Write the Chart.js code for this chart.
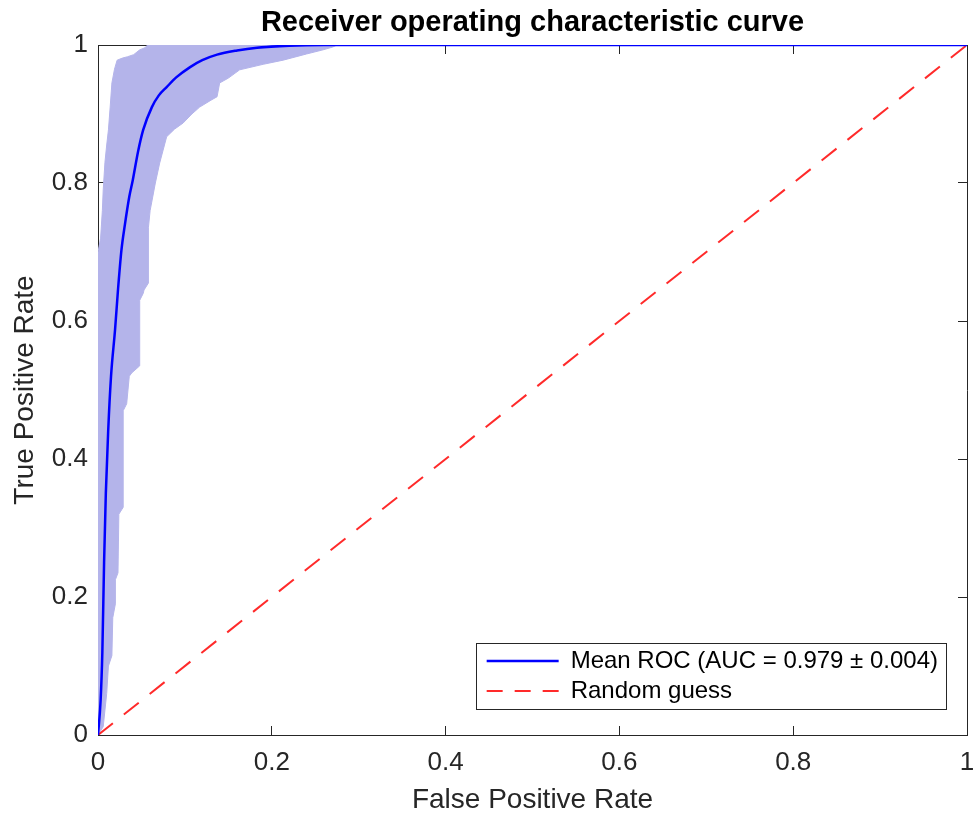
<!DOCTYPE html>
<html>
<head>
<meta charset="utf-8">
<title>ROC curve</title>
<script src="https://cdn.jsdelivr.net/npm/chart.js@4.4.1/dist/chart.umd.min.js"></script>
<style>
  html, body { margin: 0; padding: 0; background: #fff; }
  canvas { display: block; }
</style>
</head>
<body>
<canvas id="rocChart" width="974" height="818"></canvas>
<script>
// =======================
// data
// =======================

const tickValues = [0, 0.2, 0.4, 0.6, 0.8, 1];

// mean ROC over the folds
const meanFpr = [0, 0.003, 0.005, 0.007, 0.009, 0.0117, 0.015, 0.0196, 0.023, 0.027, 0.031, 0.036, 0.040, 0.046, 0.052, 0.062, 0.070, 0.079, 0.090, 0.106, 0.120, 0.137, 0.160, 0.183, 0.220, 0.260, 1];
const meanTpr = [0, 0.05, 0.12, 0.25, 0.35, 0.44, 0.52, 0.587, 0.645, 0.703, 0.74, 0.78, 0.804, 0.845, 0.877, 0.910, 0.927, 0.939, 0.953, 0.968, 0.978, 0.986, 0.992, 0.996, 0.999, 1, 1];

// chance line
const guessFpr = [0, 1];
const guessTpr = [0, 1];

// spread of the single fold curves (upper-left and lower-right edge)
const bandTopFpr = [0, 0, 0.003, 0.005, 0.006, 0.008, 0.010, 0.012, 0.014, 0.016, 0.019, 0.022, 0.028, 0.034, 0.041, 0.048, 0.054, 0.057, 0.275];
const bandTopTpr = [0, 0.70, 0.72, 0.76, 0.79, 0.83, 0.855, 0.877, 0.91, 0.945, 0.965, 0.978, 0.981, 0.983, 0.986, 0.993, 0.996, 1, 1];

const bandLowFpr = [0, 0.006, 0.010, 0.012, 0.016, 0.017, 0.020, 0.020, 0.023, 0.024, 0.029, 0.029, 0.033, 0.036, 0.039, 0.048, 0.048, 0.052, 0.053, 0.058, 0.058, 0.060, 0.066, 0.071, 0.079, 0.088, 0.098, 0.108, 0.117, 0.130, 0.137, 0.140, 0.150, 0.163, 0.190, 0.213, 0.240, 0.259, 0.270, 0.275];
const bandLowTpr = [0, 0.012, 0.06, 0.10, 0.115, 0.17, 0.19, 0.225, 0.235, 0.32, 0.33, 0.47, 0.48, 0.52, 0.525, 0.535, 0.63, 0.64, 0.645, 0.655, 0.735, 0.76, 0.80, 0.829, 0.867, 0.878, 0.887, 0.90, 0.910, 0.92, 0.925, 0.945, 0.952, 0.964, 0.972, 0.978, 0.987, 0.993, 0.997, 1];

const legendLabels = ['Mean ROC (AUC = 0.979 \u00b1 0.004)', 'Random guess'];

const toPoints = (xs, ys) => xs.map((x, i) => ({ x: x, y: ys[i] }));

// =======================
// style
// =======================

const fontFamily = '"Liberation Sans", Arial, Helvetica, sans-serif';
const axisColor = '#262626';
const bandColor = '#b4b4ea';
const tickLen = -9; // negative = ticks point into the plot box
const sampleW = 72; // legend line sample length
// legend draws a flat rect, so the pattern has to retrace itself on the way back
const legendDash = [16, 12, 16, 12, 16, 0];

Chart.defaults.font.family = fontFamily;

function setTicks(axis) {
  axis.ticks = tickValues.map(v => ({ value: v }));
}

function boxAxis(position, extra) {
  return Object.assign({
    type: 'linear',
    position: position,
    min: 0,
    max: 1,
    afterBuildTicks: setTicks,
    border: { display: true, color: axisColor, width: 1 },
    grid: {
      drawOnChartArea: false,
      drawTicks: true,
      tickLength: tickLen,
      color: axisColor,
      lineWidth: 1
    },
    ticks: { display: false }
  }, extra);
}

// legend sits in the lower right of the plot, like matlab 'southeast'
const legendFrame = {
  id: 'legendFrame',
  afterLayout(chart) {
    const lg = chart.legend;
    const area = chart.chartArea;
    const ctx = chart.ctx;
    ctx.save();
    ctx.font = '24px ' + fontFamily;
    const textW = Math.max(...legendLabels.map(t => ctx.measureText(t).width));
    ctx.restore();

    const right = area.right - 21;
    const bottom = area.bottom - 26;
    const left = right - 8 - textW - (sampleW + 12) - 11;
    const top = bottom - 66;

    lg.left = left + 5;
    lg.top = top;
    lg.right = right;
    lg.bottom = area.bottom;
    lg.width = lg.right - lg.left;
    lg.height = lg.bottom - lg.top;
    chart.$legendBox = { left, top, right, bottom };
  },
  afterDraw(chart) {
    const b = chart.$legendBox;
    if (!b) return;
    const ctx = chart.ctx;
    ctx.save();
    ctx.strokeStyle = axisColor;
    ctx.lineWidth = 1;
    ctx.strokeRect(Math.round(b.left) + 0.5, Math.round(b.top) + 0.5,
      Math.round(b.right - b.left), Math.round(b.bottom - b.top));
    ctx.restore();
  }
};

// =======================
// chart
// =======================

new Chart(document.getElementById('rocChart'), {
  type: 'line',
  data: {
    datasets: [
      {
        label: legendLabels[0],
        data: toPoints(meanFpr, meanTpr),
        borderColor: '#0000ff',
        borderWidth: 2.5,
        cubicInterpolationMode: 'monotone',
        pointRadius: 0,
        fill: false
      },
      {
        label: legendLabels[1],
        data: toPoints(guessFpr, guessTpr),
        borderColor: '#ff2a2a',
        borderWidth: 2,
        borderDash: [19, 14],
        pointRadius: 0,
        fill: false
      },
      {
        label: 'band top',
        data: toPoints(bandTopFpr, bandTopTpr),
        borderColor: bandColor,
        backgroundColor: bandColor,
        borderWidth: 1,
        pointRadius: 0,
        tension: 0,
        fill: '+1'
      },
      {
        label: 'band low',
        data: toPoints(bandLowFpr, bandLowTpr),
        borderColor: bandColor,
        borderWidth: 1,
        pointRadius: 0,
        tension: 0,
        fill: false
      }
    ]
  },
  options: {
    responsive: false,
    animation: false,
    events: [],
    layout: { padding: 0 },
    plugins: {
      title: {
        display: true,
        fullSize: false,
        text: 'Receiver operating characteristic curve',
        color: '#000',
        font: { size: 29, weight: 'bold' },
        padding: { top: 5.6, bottom: 4.6 }
      },
      legend: {
        display: true,
        position: 'chartArea',
        align: 'start',
        labels: {
          filter: item => item.datasetIndex < 2,
          generateLabels(chart) {
            const items = Chart.defaults.plugins.legend.labels.generateLabels(chart);
            items.forEach(it => {
              it.fillStyle = 'rgba(0,0,0,0)';
              if (it.lineDash && it.lineDash.length) it.lineDash = legendDash;
            });
            return items;
          },
          boxWidth: sampleW,
          boxHeight: 0,
          padding: 6,
          color: '#000',
          font: { size: 24 }
        }
      },
      tooltip: { enabled: false }
    },
    scales: {
      x: boxAxis('bottom', {
        afterFit: s => { s.height = 83; s.paddingRight = 0; },
        ticks: {
          display: true,
          color: axisColor,
          font: { size: 26 },
          padding: 21,
          maxRotation: 0,
          callback: v => String(+Number(v).toFixed(1))
        },
        title: {
          display: true,
          text: 'False Positive Rate',
          color: axisColor,
          font: { size: 28 },
          padding: { top: 0, bottom: 1.2 }
        }
      }),
      y: boxAxis('left', {
        afterFit: s => { s.width = 98; },
        ticks: {
          display: true,
          color: axisColor,
          font: { size: 26 },
          padding: 19,
          callback: v => String(+Number(v).toFixed(1))
        },
        title: {
          display: true,
          text: 'True Positive Rate',
          color: axisColor,
          font: { size: 28 },
          padding: { top: 8.2, bottom: 0 }
        }
      }),
      x2: boxAxis('top', {
        afterFit: s => { s.height = 0; }
      }),
      y2: boxAxis('right', {
        afterFit: s => { s.width = 7; }
      })
    }
  },
  plugins: [legendFrame]
});
</script>
</body>
</html>
